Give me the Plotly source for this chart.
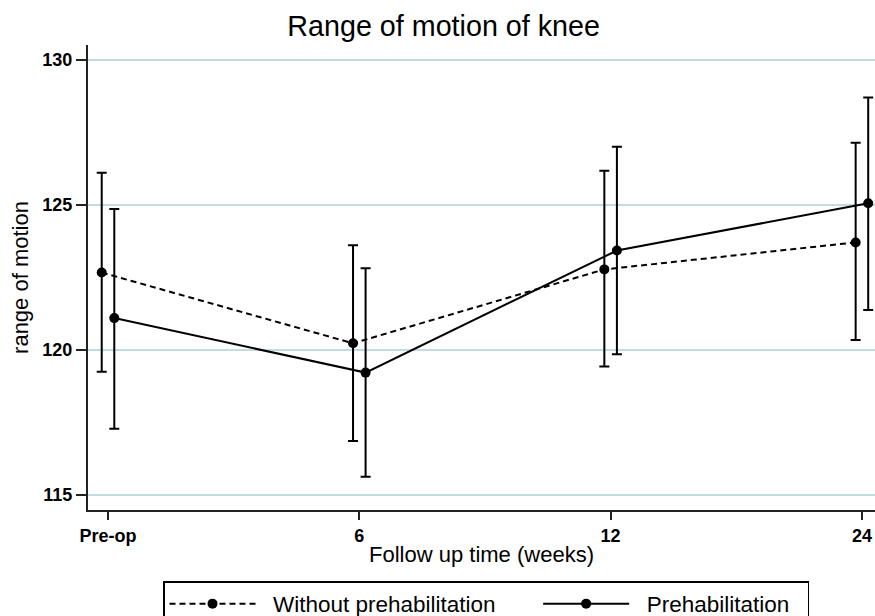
import plotly.graph_objects as go

# ---- data ----
categories = ["Pre-op", "6", "12", "24"]

without_mean = [122.67, 120.23, 122.78, 123.71]
without_upper = [126.11, 123.61, 126.18, 127.15]
without_lower = [119.25, 116.86, 119.43, 120.34]

prehab_mean = [121.10, 119.22, 123.43, 125.06]
prehab_upper = [124.86, 122.82, 127.01, 128.71]
prehab_lower = [117.28, 115.63, 119.85, 121.38]

series_names = ["Without prehabilitation", "Prehabilitation"]
y_ticks = [115, 120, 125, 130]

# ---- layout constants ----
FONT = "Liberation Sans, Arial, Helvetica, sans-serif"
GRID = "#bfdde1"
OFFSET = 0.025
NB = "\u00a0"

base_x = list(range(len(categories)))
x_without = [i - OFFSET for i in base_x]
x_prehab = [i + OFFSET for i in base_x]


def err(upper, lower, mean):
    return dict(
        type="data",
        symmetric=False,
        array=[u - m for u, m in zip(upper, mean)],
        arrayminus=[m - l for l, m in zip(lower, mean)],
        color="black",
        thickness=2,
        width=5,
    )


fig = go.Figure()
fig.add_trace(go.Scatter(
    x=x_without, y=without_mean, mode="lines+markers",
    name=NB * 2 + series_names[0] + NB * 6,
    line=dict(color="black", width=2, dash="6px,4px"),
    marker=dict(color="black", size=10),
    error_y=err(without_upper, without_lower, without_mean),
))
fig.add_trace(go.Scatter(
    x=x_prehab, y=prehab_mean, mode="lines+markers",
    name=NB * 2 + series_names[1] + NB * 2,
    line=dict(color="black", width=2),
    marker=dict(color="black", size=10),
    error_y=err(prehab_upper, prehab_lower, prehab_mean),
))

tickfont = dict(size=18, family=FONT, weight="bold", color="black")

fig.update_layout(
    width=875, height=616,
    margin=dict(l=88, r=0, t=45, b=106, autoexpand=False),
    paper_bgcolor="white", plot_bgcolor="white",
    font=dict(family=FONT, color="black"),
    title=dict(text="Range of motion of knee", x=0.507, xanchor="center",
               y=0.958, yanchor="middle", font=dict(size=28.7, color="black")),
    showlegend=True,
    legend=dict(
        orientation="h", x=0.0953, xanchor="left", y=-0.1527, yanchor="top",
        bordercolor="black", borderwidth=1.5, bgcolor="white",
        font=dict(size=22.5, color="black"), itemwidth=86,
        traceorder="normal",
    ),
    xaxis=dict(
        range=[-0.0796, 3.052], tickmode="array", tickvals=base_x,
        ticktext=categories, showgrid=False, zeroline=False,
        showline=True, linecolor="#222222", linewidth=2,
        ticks="outside", ticklen=8, tickwidth=1.5, tickcolor="#222222",
        tickfont=tickfont,
        title=dict(text="Follow up time (weeks)", font=dict(size=22), standoff=2),
    ),
    yaxis=dict(
        range=[114.48, 130.52], tickmode="array", tickvals=y_ticks,
        showgrid=True, gridcolor=GRID, gridwidth=1.5, zeroline=False,
        showline=True, linecolor="#222222", linewidth=2,
        ticks="outside", ticklen=10, tickwidth=1.5, tickcolor="#222222",
        tickfont=tickfont,
        title=dict(text="range of motion", font=dict(size=22), standoff=8),
    ),
)

fig.write_html("out.html")
